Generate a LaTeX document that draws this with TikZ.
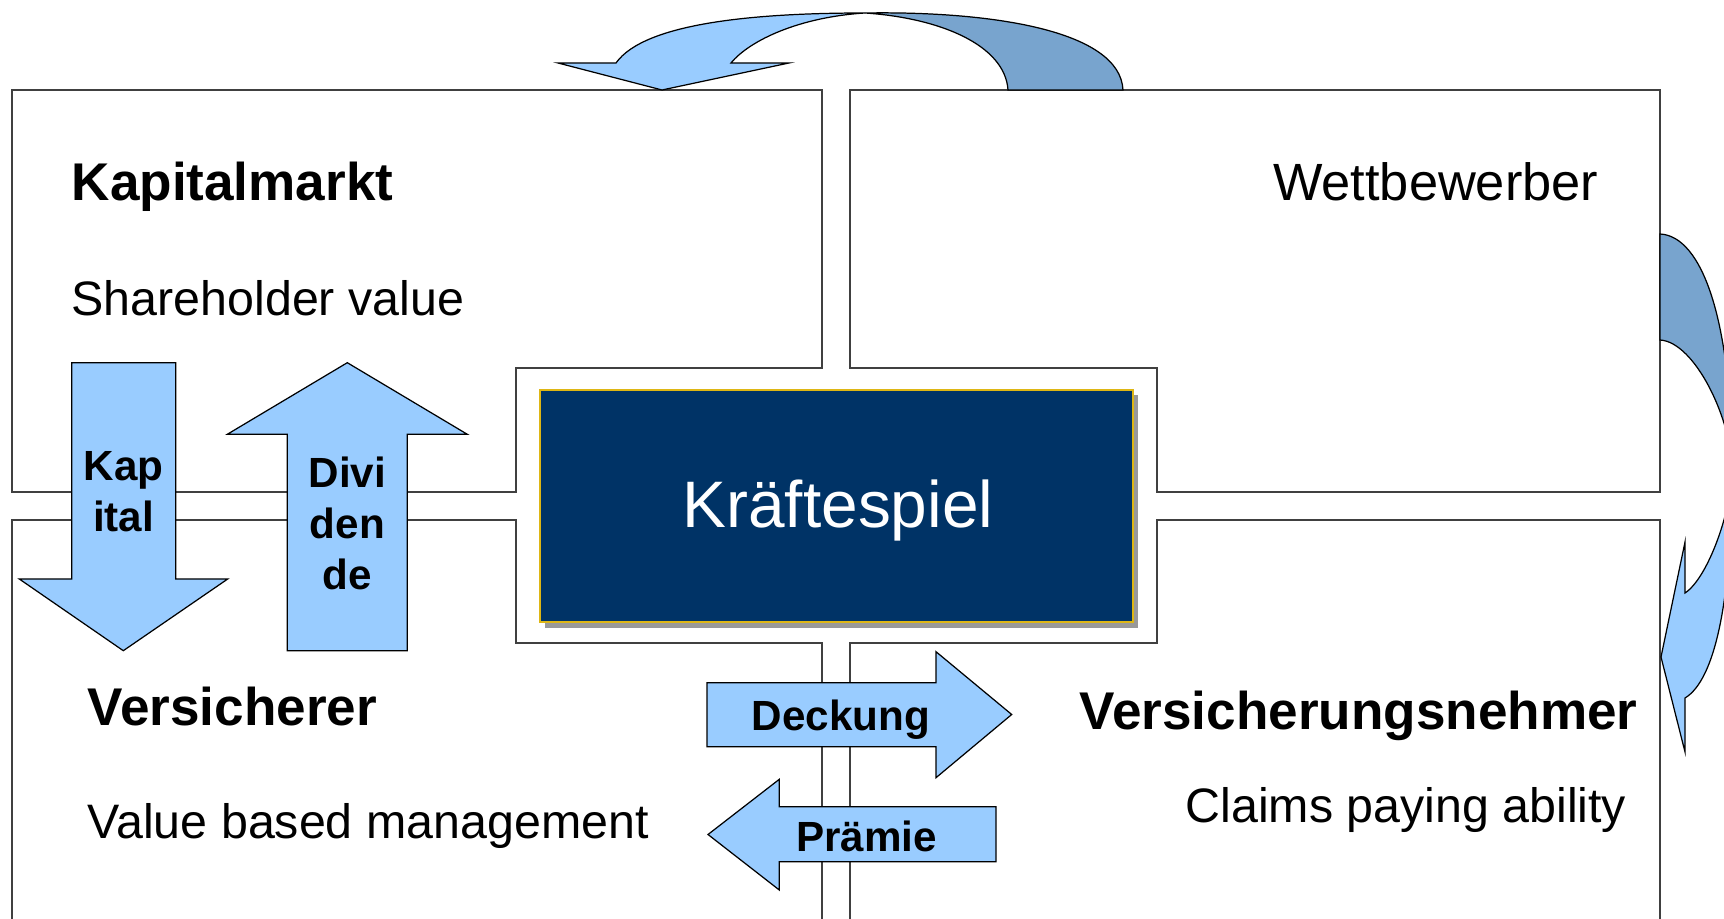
\documentclass[tikz,border=0pt]{standalone}
\usepackage{fontspec}
\setmainfont{Liberation Sans}
\usepackage{tikz}
\usetikzlibrary{shadows}
\definecolor{arrowLight}{RGB}{153,204,255}
\definecolor{arrowDark}{RGB}{120,164,206}
\definecolor{forceNavy}{RGB}{0,51,102}
\definecolor{forceGold}{RGB}{222,182,20}
\tikzstyle{panel}=[draw=black!75, line width=0.4pt, fill=white]
\tikzstyle{blockArrow}=[fill=arrowLight, draw=black, line width=0.35pt]
\tikzstyle{backArrow}=[fill=arrowDark, draw=black, line width=0.35pt]
\tikzstyle{regionTitle}=[inner sep=0pt, font=\fontsize{15.1}{18}\selectfont\bfseries]
\tikzstyle{regionText}=[inner sep=0pt, font=\fontsize{13.75}{16}\selectfont]
\tikzstyle{arrowText}=[inner sep=0pt, align=center, font=\fontsize{12}{14.5}\selectfont\bfseries]
\tikzstyle{forceBox}=[fill=forceNavy, draw=forceGold, line width=0.5pt,
  minimum width=5.92cm, minimum height=2.32cm, inner sep=0pt,
  drop shadow={shadow xshift=0.05cm, shadow yshift=-0.055cm, fill=black!40, opacity=1}]

\begin{document}
\begin{tikzpicture}[x=0.01cm, y=-0.01cm]
      \useasboundingbox (0,0) rectangle (1724,919);
      \clip (0,0) rectangle (1724,919);

      % the four fields
      \path[panel] (12,90) -- (822,90) -- (822,368) -- (516,368) -- (516,492) -- (12,492) -- cycle;
      \path[panel] (850,90) -- (1660,90) -- (1660,492) -- (1157,492) -- (1157,368) -- (850,368) -- cycle;
      \draw[panel] (12,930) -- (12,520) -- (516,520) -- (516,643) -- (822,643) -- (822,930);
      \draw[panel] (850,930) -- (850,643) -- (1157,643) -- (1157,520) -- (1660,520) -- (1660,930);

      \node[regionTitle, anchor=base west] (kapitalmarkt) at (71,201) {Kapitalmarkt};
      \node[regionText, anchor=base west] (shareholder) at (71,316) {Shareholder value};
      \node[regionText, anchor=base east, font=\fontsize{14.9}{18}\selectfont] (wettbewerber) at (1599,201) {Wettbewerber};
      \node[regionTitle, anchor=base west] (versicherer) at (87,726) {Versicherer};
      \node[regionText, anchor=base west] (valueBased) at (87,838) {Value based management};
      \node[regionTitle, anchor=base west] (nehmer) at (1079,730) {Versicherungsnehmer};
      \node[regionText, anchor=base east] (claims) at (1627,822) {Claims paying ability};

      \node[forceBox] (kraefte) at (836.5,506) {};
      \node[anchor=base, inner sep=0pt, text=white, font=\fontsize{18.7}{22}\selectfont]
        (kraefteText) at (838,528) {Kräftespiel};

      % block arrows
      \path[blockArrow] (71.7,362.7) -- (175.7,362.7) -- (175.7,579) -- (227.7,579) -- (123.3,650.7)
        -- (19.3,579) -- (71.7,579) -- cycle;
      \path[blockArrow] (287.3,650.7) -- (287.3,434.3) -- (227.3,434.3) -- (347.3,362.7)
        -- (467.3,434.3) -- (407.3,434.3) -- (407.3,650.7) -- cycle;
      \path[blockArrow] (707,682.7) -- (936,682.7) -- (936,651.7) -- (1011.7,714.5)
        -- (936,777.7) -- (936,746.7) -- (707,746.7) -- cycle;
      \path[blockArrow] (996,806.7) -- (779.3,806.7) -- (779.3,779.3) -- (708,834.5)
        -- (779.3,890) -- (779.3,861.7) -- (996,861.7) -- cycle;

      \node[arrowText] (kapital) at (123.5,492) {Kap\\ital};
      \node[arrowText] (dividende) at (347.3,523) {Divi\\den\\de};
      \node[arrowText, anchor=base] (deckung) at (841,730.7) {Deckung};
      \node[arrowText, anchor=base] (praemie) at (866.7,851.7) {Prämie};

      % curved arrows
      \path[backArrow] (865,13) .. controls (990,11) and (1120,30) .. (1123,90) -- (1008,90)
        .. controls (1005,45) and (940,18) .. (865,13) -- cycle;
      \path[blockArrow] (865,13) .. controls (800,17) and (750,40) .. (731,63) -- (789,63) -- (662,90)
        -- (558,63) -- (616,63) .. controls (645,22) and (760,13) .. (865,13) -- cycle;
      \path[backArrow] (1660,234) .. controls (1702,236) and (1732,320) .. (1732,470)
        .. controls (1732,420) and (1695,342) .. (1660,340) -- cycle;
      \path[blockArrow] (1732,470) .. controls (1732,510) and (1708,578) .. (1685,593) -- (1685,542)
        -- (1661,657) -- (1685,752) -- (1685,698) .. controls (1715,680) and (1732,600) .. (1732,470) -- cycle;
\end{tikzpicture}
\end{document}
